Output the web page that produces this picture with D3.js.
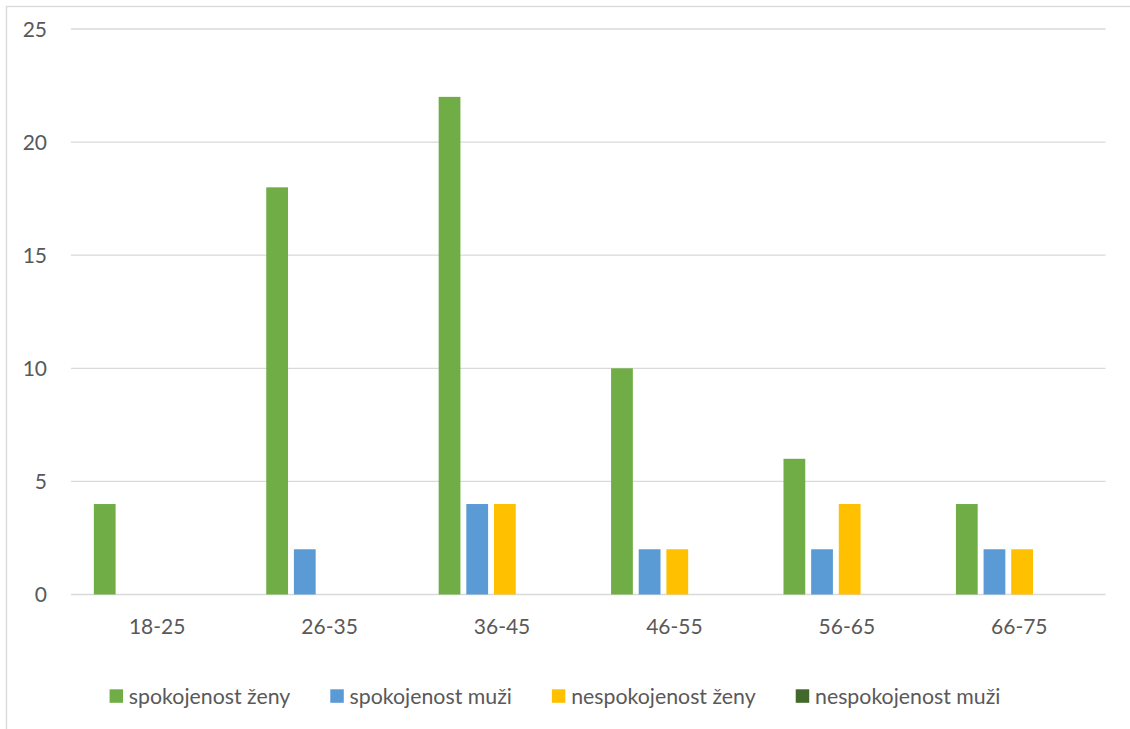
<!DOCTYPE html>
<html>
<head>
<meta charset="utf-8">
<script src="https://cdn.jsdelivr.net/npm/d3@7"></script>
<style>
  html, body { margin: 0; padding: 0; background: #fff; }
  svg { display: block; }
  text { font-family: Lato, "Open Sans", sans-serif; fill: #595959; }
</style>
</head>
<body>
<svg id="chart" width="1130" height="729"></svg>
<script>
// Age groups on the x axis
const categories = ["18-25", "26-35", "36-45", "46-55", "56-65", "66-75"];

// Series names (legend order) and their colours
const seriesNames = ["spokojenost ženy", "spokojenost muži", "nespokojenost ženy", "nespokojenost muži"];
const seriesColors = ["#70ad47", "#5b9bd5", "#ffc000", "#43682b"];

// Values per series, one per age group
const spokojenostZeny = [4, 18, 22, 10, 6, 4];
const spokojenostMuzi = [0, 2, 4, 2, 2, 2];
const nespokojenostZeny = [0, 0, 4, 2, 4, 2];
const nespokojenostMuzi = [0, 0, 0, 0, 0, 0];

// Y axis ticks
const yTicks = [0, 5, 10, 15, 20, 25];

const seriesValues = [spokojenostZeny, spokojenostMuzi, nespokojenostZeny, nespokojenostMuzi];

// Each cluster reserves five slots (the workbook has one more, empty, series column)
const clusterSlots = 5;
const gapWidth = 2.19;   // space between clusters, as a multiple of bar width
const overlap = -0.27;   // negative overlap -> spacing between bars

const svg = d3.select("#chart");

const plot = { left: 71, right: 1105.5, top: 29, bottom: 594.5 };

// Outer chart frame
svg.append("rect")
  .attr("x", 6.5).attr("y", 6.5)
  .attr("width", 1200).attr("height", 800)
  .attr("fill", "none")
  .attr("stroke", "#d9d9d9")
  .attr("stroke-width", 1.3);

const x0 = d3.scaleBand()
  .domain(categories)
  .range([plot.left, plot.right])
  .padding(0);

const y = d3.scaleLinear()
  .domain([0, 25])
  .range([plot.bottom, plot.top]);

// Bar geometry inside a cluster
const catW = x0.bandwidth();
const barW = catW / (clusterSlots + (clusterSlots - 1) * (-overlap) + gapWidth);
const stepW = barW * (1 - overlap);
const groupW = (clusterSlots - 1) * stepW + barW;
const x1 = d3.scaleBand()
  .domain(d3.range(clusterSlots))
  .range([(catW - groupW) / 2, (catW - groupW) / 2 + groupW + (stepW - barW)])
  .paddingInner((stepW - barW) / stepW)
  .paddingOuter(0)
  .align(0);

// Gridlines
svg.append("g")
  .selectAll("line")
  .data(yTicks)
  .join("line")
  .attr("x1", plot.left)
  .attr("x2", plot.right)
  .attr("y1", d => y(d))
  .attr("y2", d => y(d))
  .attr("stroke", "#d9d9d9")
  .attr("stroke-width", 1.3);

// Y tick labels
svg.append("g")
  .selectAll("text")
  .data(yTicks)
  .join("text")
  .attr("x", 47)
  .attr("y", d => y(d))
  .attr("dy", "0.36em")
  .attr("text-anchor", "end")
  .attr("font-size", 21)
  .text(d => d);

// Bars
const rows = [];
categories.forEach((c, ci) => {
  seriesValues.forEach((vals, si) => {
    rows.push({ cat: c, si, value: vals[ci] });
  });
});

svg.append("g")
  .selectAll("rect")
  .data(rows.filter(d => d.value > 0))
  .join("rect")
  .attr("x", d => x0(d.cat) + x1(d.si))
  .attr("width", x1.bandwidth())
  .attr("y", d => y(d.value))
  .attr("height", d => y(0) - y(d.value))
  .attr("fill", d => seriesColors[d.si]);

// X category labels
svg.append("g")
  .selectAll("text")
  .data(categories)
  .join("text")
  .attr("x", d => x0(d) + catW / 2)
  .attr("y", 634)
  .attr("text-anchor", "middle")
  .attr("font-size", 21)
  .text(d => d);

// Legend
const legend = svg.append("g");
const items = legend.selectAll("g")
  .data(seriesNames)
  .join("g");

items.append("rect")
  .attr("width", 13.5)
  .attr("height", 13.5)
  .attr("y", 689.3)
  .attr("fill", (d, i) => seriesColors[i]);

items.append("text")
  .attr("x", 19.3)
  .attr("y", 704)
  .attr("font-size", 21.3)
  .text(d => d);

const itemGap = 40;
const widths = [];
items.each(function () {
  widths.push(d3.select(this).select("text").node().getComputedTextLength() + 19.3);
});
const total = d3.sum(widths) + itemGap * (widths.length - 1);
let cursor = 555 - total / 2;
items.each(function (d, i) {
  d3.select(this).attr("transform", `translate(${cursor},0)`);
  cursor += widths[i] + itemGap;
});
</script>
</body>
</html>
